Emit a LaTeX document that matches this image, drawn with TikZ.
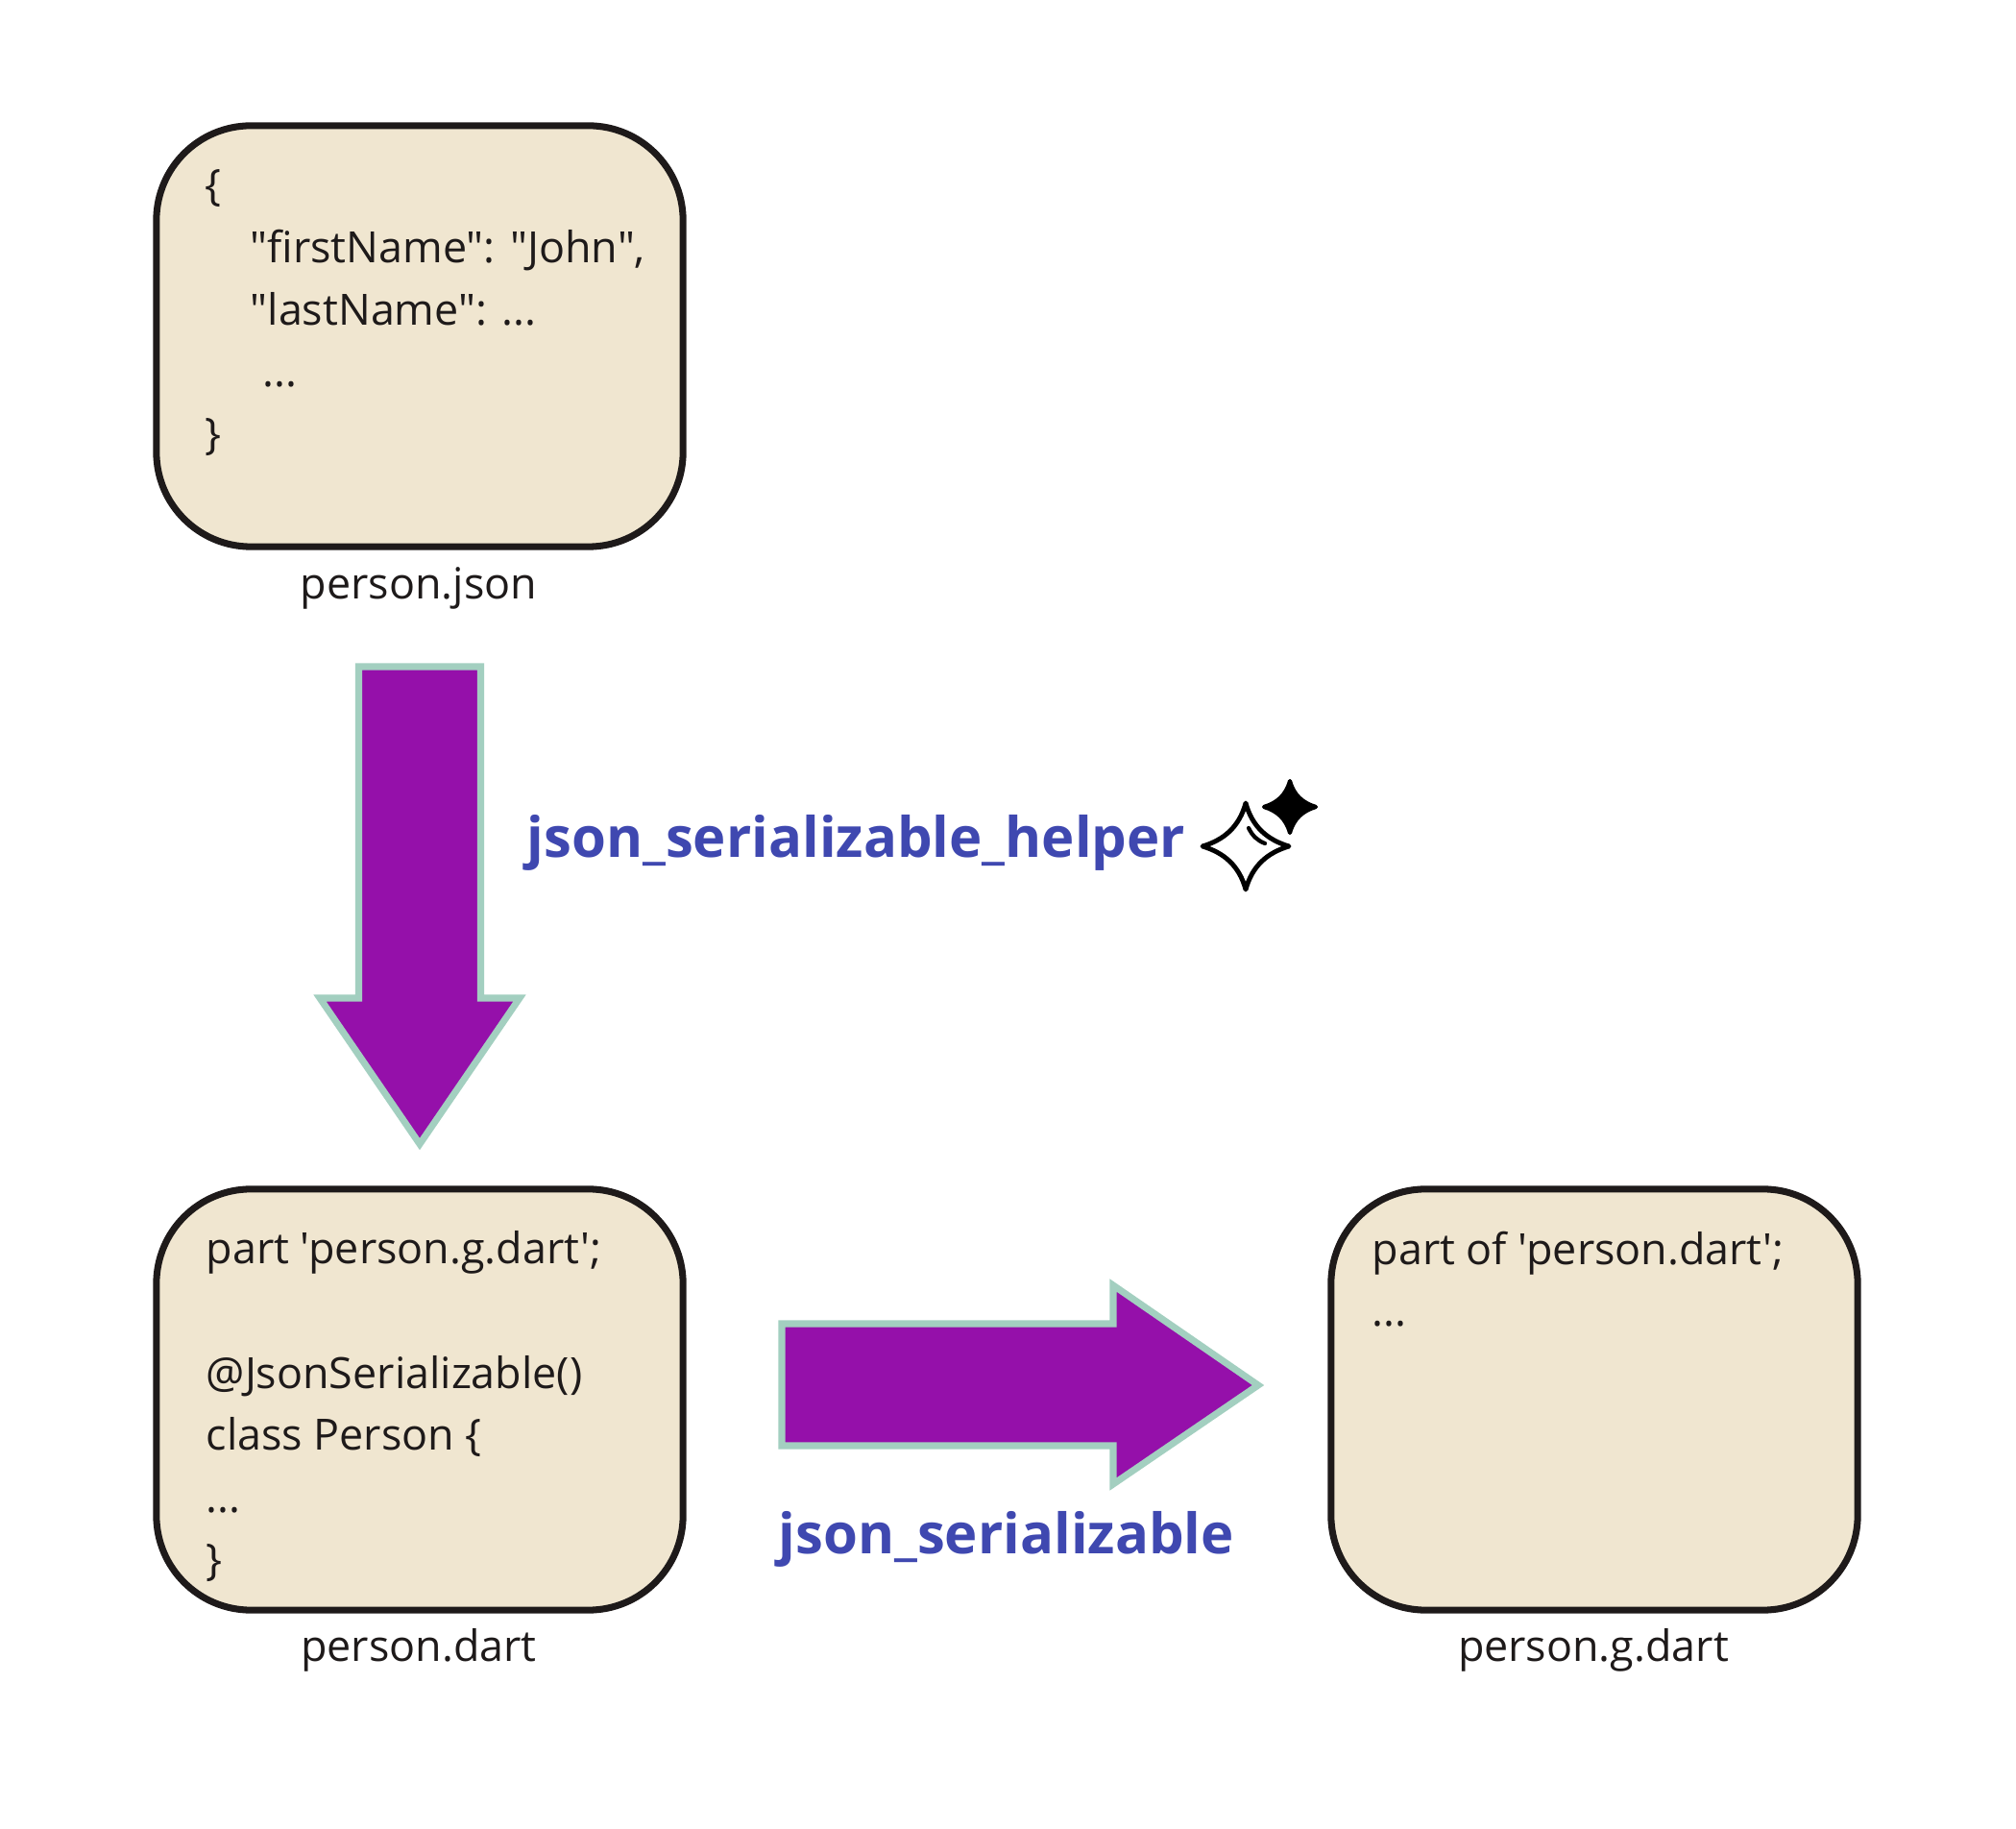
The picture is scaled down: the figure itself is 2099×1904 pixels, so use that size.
\documentclass[tikz,border=0pt]{standalone}
\usepackage{fontspec}
\setmainfont{Open Sans}[Ligatures=TeXOff]
\usetikzlibrary{positioning}
\definecolor{boxfill}{RGB}{240,230,208}
\definecolor{boxline}{RGB}{30,26,26}
\definecolor{arrowfill}{RGB}{149,16,170}
\definecolor{arrowline}{RGB}{163,207,192}
\definecolor{titleblue}{RGB}{63,72,176}
\newcommand{\sparklepath}{(0,-1) .. controls (0.15,-0.45) and (0.5,-0.15) .. (1,0)
	.. controls (0.5,0.15) and (0.15,0.45) .. (0,1)
	.. controls (-0.15,0.45) and (-0.5,0.15) .. (-1,0)
	.. controls (-0.5,-0.15) and (-0.15,-0.45) .. (0,-1) -- cycle}
\tikzset{
	codebox/.style={draw=boxline, fill=boxfill, line width=2pt, rounded corners=28pt,
		minimum width=5.48cm, minimum height=4.38cm, inner sep=0pt},
	codetext/.style={align=left, inner sep=0pt, anchor=north west, text=boxline,
		font=\fontsize{12.75}{18.4}\selectfont},
	filelabel/.style={inner sep=0pt, text=boxline, font=\fontsize{12.75}{15}\selectfont},
	bigarrow/.style={draw=arrowline, fill=arrowfill, line width=2pt, miter limit=10},
	tooltitle/.style={inner sep=0pt, anchor=base west, text=titleblue,
		font=\fontsize{16.5}{20}\selectfont\bfseries}
}

\begin{document}
\begin{tikzpicture}[x=0.01cm,y=-0.01cm]
	\useasboundingbox (0,0) rectangle (2099,1904);
	
	\node (jsonbox) [codebox] at (437,350) {};
	\node (dartbox) [codebox] at (437,1457) {};
	\node (gdartbox) [codebox] at (1660,1457) {};
	
	\node (jsontext) [codetext] at (213,176)
	{\{\\
	\hspace*{0.47cm}"firstName": "John",\\
	\hspace*{0.47cm}"lastName": ...\\
	\hspace*{0.6cm}...\\
	\}};
	\node (darttext) [codetext] at (214,1281)
	{part 'person.g.dart';\\
	~\\
	@JsonSerializable()\\
	class Person \{\\
	...\\
	\}};
	\node (gdarttext) [codetext] at (1428,1281)
	{part of 'person.dart';\\
	...};
	
	\node (jsonlabel) [filelabel] at (436,612) {person.json};
	\node (dartlabel) [filelabel] at (436,1718) {person.dart};
	\node (gdartlabel) [filelabel] at (1659,1718) {person.g.dart};
	
	% block arrows
	\draw [bigarrow] (373.5,694) -- (500.5,694) -- (500.5,1039) -- (541,1039)
		-- (437,1191) -- (333,1039) -- (373.5,1039) -- cycle;
	\draw [bigarrow] (814,1378) -- (1159,1378) -- (1159,1338) -- (1310,1442)
		-- (1159,1545) -- (1159,1505) -- (814,1505) -- cycle;
	
	\node (helpertitle) [tooltitle] at (548,893) {json\_serializable\_helper};
	\node (plaintitle) [tooltitle] at (810,1617) {json\_serializable};
	
	% sparkles
	\draw [line width=1.4pt, line join=round, fill=white, shift={(1297,881)}, xscale=45, yscale=45] \sparklepath;
	\draw [line width=1.2pt, line join=round, fill=black, shift={(1343,840)}, xscale=27, yscale=27] \sparklepath;
	\draw [line width=1.2pt, line cap=round] (1300,862) .. controls (1304,870) and (1309,875) .. (1317,878);
\end{tikzpicture}
\end{document}
